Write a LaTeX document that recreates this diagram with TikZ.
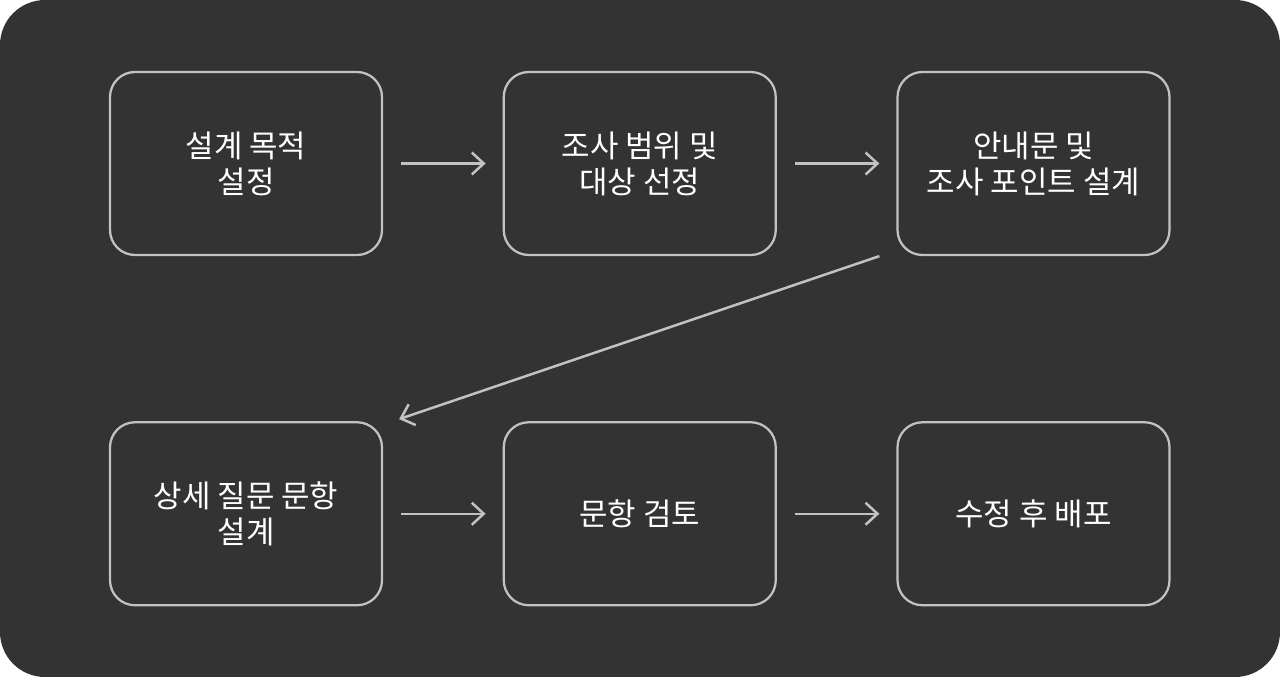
\documentclass[tikz,border=0pt]{standalone}
\usepackage{fontspec}
\setmainfont{Noto Sans CJK KR}
\usetikzlibrary{positioning,arrows.meta}
\definecolor{bgdark}{HTML}{333333}
\definecolor{linegray}{HTML}{C2C2C2}
\begin{document}
\begin{tikzpicture}[%
        every node/.style={rectangle, rounded corners=0.5cm, draw=linegray, line width=0.045cm,
          minimum width=5.44cm, minimum height=3.66cm, inner sep=0pt, align=center,
          text=white, font=\fontsize{17.6}{20.5}\selectfont},
        shorten >=0.34cm, shorten <=0.36cm,
        node distance=3.30cm and 2.39cm,
        >={Straight Barb[length=0.24cm,width=0.44cm,line width=0.05cm]}
      ]
      \fill [bgdark, rounded corners=0.9cm] (0,0) rectangle (25.6,-13.54);
      \node [] (0) at (4.92,-3.27) {설계 목적\\설정};
      \node [] (1) [right=of 0] {조사 범위 및\\대상 선정};
      \node [] (2) [right=of 1] {안내문 및\\조사 포인트 설계};
      \node [] (3) [below=of 0] {상세 질문 문항\\설계};
      \node [] (4) [right=of 3] {문항 검토};
      \node [] (5) [right=of 4] {수정 후 배포};
      \coordinate (d0) at ([xshift=-0.34cm]2.south west);
      \coordinate (d1) at ([xshift=0.32cm,yshift=0.04cm]3.north east);
      \path [draw=linegray, line width=0.05cm] (0) edge[->] (1)
      (1) edge[->] (2)
      (3) edge[->] (4)
      (4) edge[->] (5);
      \draw [linegray, line width=0.05cm, ->, shorten >=0pt, shorten <=0pt] (d0) -- (d1);
    \end{tikzpicture}
\end{document}
